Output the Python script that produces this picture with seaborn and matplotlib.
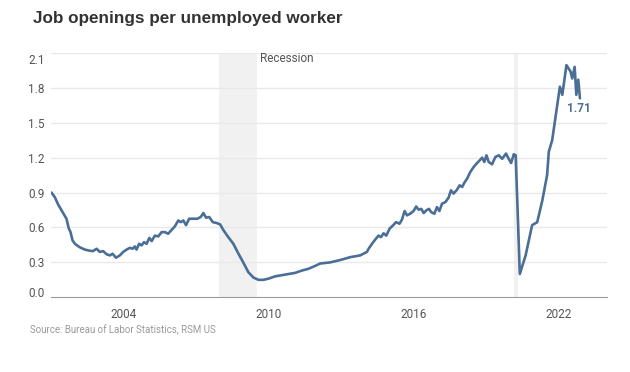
import numpy as np
import pandas as pd
import seaborn as sns
import matplotlib.pyplot as plt
from matplotlib.transforms import ScaledTranslation

# ---------------- Data ----------------
years = [
    # 2001 - 2002
    2001.00, 2001.14, 2001.27, 2001.41, 2001.55, 2001.62, 2001.72, 2001.79, 2001.87, 2001.97,
    2002.17, 2002.38, 2002.59, 2002.72, 2002.87,
    # 2003 - 2008
    2003.00, 2003.14, 2003.28, 2003.42, 2003.53, 2003.67, 2003.83, 2003.97, 2004.11, 2004.25,
    2004.36, 2004.45, 2004.52, 2004.63, 2004.73, 2004.83, 2004.94, 2005.05, 2005.15, 2005.28,
    2005.42, 2005.56, 2005.70, 2005.83, 2005.98, 2006.11, 2006.25, 2006.35, 2006.46, 2006.57,
    2006.70, 2006.87, 2007.04, 2007.18, 2007.29, 2007.40, 2007.53, 2007.68, 2007.84, 2007.98,
    2008.11, 2008.32,
    # 2008 - 2014
    2008.53, 2008.74, 2008.94, 2009.15, 2009.36, 2009.57, 2009.77, 2009.98,
    2010.26, 2010.54, 2010.81, 2011.09, 2011.37, 2011.64, 2011.92, 2012.12, 2012.54, 2012.95,
    2013.37, 2013.78, 2014.06,
    # 2014 - 2020
    2014.13, 2014.27, 2014.40, 2014.54, 2014.64, 2014.75, 2014.86, 2015.00, 2015.14, 2015.27,
    2015.41, 2015.51, 2015.62, 2015.72, 2015.85, 2015.99, 2016.10, 2016.20, 2016.31, 2016.41,
    2016.52, 2016.63, 2016.72, 2016.85, 2016.96, 2017.06, 2017.17, 2017.31, 2017.44, 2017.54,
    2017.65, 2017.79, 2017.90, 2018.00, 2018.11, 2018.21, 2018.34, 2018.48, 2018.62, 2018.73,
    2018.83, 2018.92, 2019.01, 2019.10, 2019.24, 2019.38, 2019.52, 2019.66, 2019.82, 2019.93,
    2020.03, 2020.14, 2020.22,
    # 2020 - 2022
    2020.39, 2020.63, 2020.90, 2021.11, 2021.32, 2021.52, 2021.59, 2021.73, 2021.87, 2022.05,
    2022.15, 2022.32, 2022.49, 2022.56, 2022.66, 2022.73, 2022.81, 2022.88,
]
ratio = [
    0.90, 0.86, 0.80, 0.75, 0.70, 0.675, 0.59, 0.56, 0.49, 0.46,
    0.43, 0.41, 0.40, 0.397, 0.417,
    0.39, 0.397, 0.37, 0.36, 0.374, 0.34, 0.36, 0.39, 0.41, 0.425,
    0.417, 0.437, 0.41, 0.46, 0.446, 0.474, 0.46, 0.51, 0.483, 0.53,
    0.523, 0.56, 0.56, 0.546, 0.58, 0.61, 0.66, 0.646, 0.66, 0.62,
    0.675, 0.675, 0.675, 0.69, 0.724, 0.684, 0.69, 0.646, 0.638, 0.627,
    0.58, 0.517,
    0.46, 0.375, 0.30, 0.216, 0.17, 0.15, 0.15, 0.16,
    0.18, 0.19, 0.20, 0.21, 0.23, 0.245, 0.27, 0.29, 0.30, 0.32,
    0.345, 0.36, 0.39,
    0.417, 0.46, 0.495, 0.53, 0.517, 0.55, 0.53, 0.59, 0.618, 0.646,
    0.632, 0.667, 0.741, 0.704, 0.718, 0.741, 0.78, 0.753, 0.76, 0.724,
    0.747, 0.76, 0.732, 0.718, 0.775, 0.741, 0.805, 0.818, 0.856, 0.919,
    0.891, 0.925, 0.962, 0.948, 0.99, 1.02, 1.077, 1.12, 1.154, 1.177,
    1.20, 1.163, 1.22, 1.163, 1.143, 1.206, 1.22, 1.19, 1.235, 1.19,
    1.154, 1.229, 1.22,
    0.20, 0.36, 0.62, 0.645, 0.83, 1.05, 1.25, 1.35, 1.55, 1.81,
    1.74, 1.995, 1.94, 1.88, 1.98, 1.74, 1.87, 1.71,
]
recessions = [(2007.92, 2009.50), (2020.14, 2020.31)]
year_ticks = [2004, 2010, 2016, 2022]
y_ticks = [0.0, 0.3, 0.6, 0.9, 1.2, 1.5, 1.8, 2.1]

df = pd.DataFrame({"year": years, "ratio": ratio})

# ---------------- Style ----------------
sns.set_style("white")
plt.rcParams["font.family"] = ["Roboto", "DejaVu Sans"]

line_color = "#4a6e96"
grid_color = "#e9e9e9"
axis_color = "#9a9a9a"
text_color = "#555555"

fig = plt.figure(figsize=(6.3, 3.72), dpi=100)
ax = fig.add_axes([0.0817, 0.2008, 0.8818, 0.657])

for start, end in recessions:
    ax.axvspan(start, end, color="#f1f1f1", lw=0, zorder=0)

for y in y_ticks[1:]:
    ax.axhline(y, color=grid_color, lw=1, zorder=1)

sns.lineplot(data=df, x="year", y="ratio", color=line_color, linewidth=1.9,
             ax=ax, zorder=3)

ax.set_xlim(2001, 2024)
ax.set_ylim(0, 2.1)
ax.set_xlabel("")
ax.set_ylabel("")

ax.set_xticks(year_ticks)
ax.set_xticklabels([str(y) for y in year_ticks])
ax.set_xticks(range(2001, 2025), minor=True)
ax.set_yticks(y_ticks)
ax.set_yticklabels([f"{v:.1f}" for v in y_ticks])

ax.tick_params(axis="x", which="both", length=3, width=0.8, color=axis_color,
               labelsize=8.5, labelcolor=text_color, pad=5, direction="out")
ax.tick_params(axis="y", length=0, labelsize=8.5, labelcolor=text_color, pad=5)

for side in ["top", "right", "left"]:
    ax.spines[side].set_visible(False)
ax.spines["bottom"].set_color(axis_color)
ax.spines["bottom"].set_linewidth(0.8)

# end labels nudged inside the plot area
ylabels = ax.get_yticklabels()
ylabels[0].set_transform(ylabels[0].get_transform() + ScaledTranslation(0, 4 / 72, fig.dpi_scale_trans))
ylabels[-1].set_transform(ylabels[-1].get_transform() + ScaledTranslation(0, -4.5 / 72, fig.dpi_scale_trans))

# ---------------- Annotations ----------------
ax.text(2009.64, 2.055, "Recession", fontsize=8.5, color="#555555",
        ha="left", va="center")
ax.text(2022.82, 1.625, "1.71", fontsize=8.5, color=line_color,
        fontweight="bold", ha="center", va="center")

fig.text(33 / 630, 1 - 18 / 372, "Job openings per unemployed worker",
         fontsize=12.3, fontweight="bold", color="#333333",
         family=["Liberation Sans", "DejaVu Sans"], ha="left", va="center")
fig.text(30 / 630, 1 - 330 / 372, "Source: Bureau of Labor Statistics, RSM US",
         fontsize=7, color="#9a9a9a", ha="left", va="center")

fig.savefig("out.png", dpi=100)
